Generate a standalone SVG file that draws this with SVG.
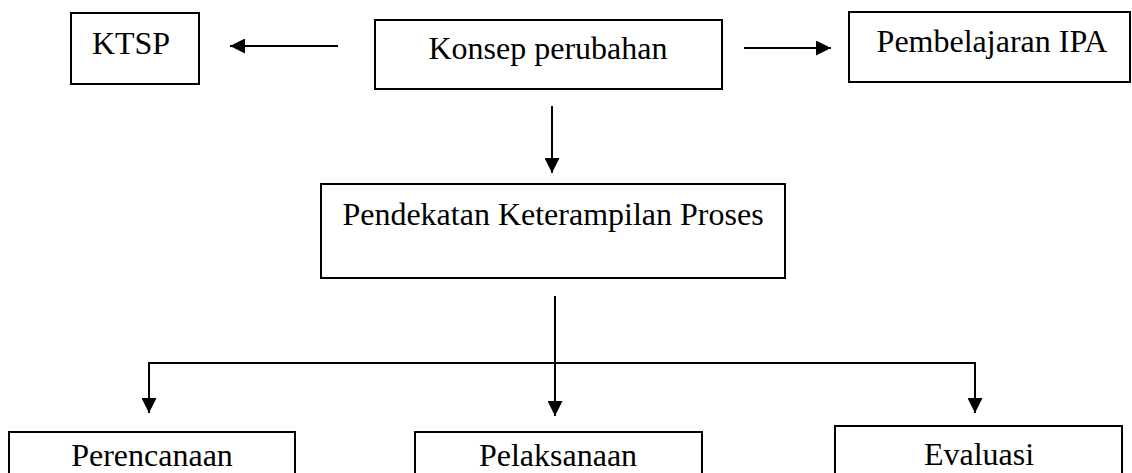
<svg xmlns="http://www.w3.org/2000/svg" width="1132" height="473" viewBox="0 0 1132 473">
<style>
.box{fill:#fff;stroke:#000;stroke-width:2}
.t{font-family:"Liberation Serif","Times New Roman",serif;font-size:32px;fill:#000;text-anchor:middle}
.c{stroke:#000;stroke-width:2;fill:none}
</style>
<defs>
<marker id="ah" viewBox="0 0 10 10" refX="10" refY="5" markerWidth="15" markerHeight="15" markerUnits="userSpaceOnUse" orient="auto">
<path d="M0,0 L10,5 L0,10 Z" fill="#000"/>
</marker>
</defs>
<rect width="1132" height="473" fill="#fff"/>
<g id="connectors">
<line class="c" x1="338" y1="46" x2="230" y2="46" marker-end="url(#ah)"/>
<line class="c" x1="744" y1="48" x2="831" y2="48" marker-end="url(#ah)"/>
<line class="c" x1="552" y1="106" x2="552" y2="173" marker-end="url(#ah)"/>
<line class="c" x1="555" y1="296" x2="555" y2="416" marker-end="url(#ah)"/>
<line class="c" x1="148" y1="363" x2="976" y2="363"/>
<line class="c" x1="149" y1="362" x2="149" y2="413" marker-end="url(#ah)"/>
<line class="c" x1="975" y1="362" x2="975" y2="413" marker-end="url(#ah)"/>
</g>
<g id="ktsp"><rect class="box" x="71" y="13" width="128" height="71"/><text class="t" x="131" y="54">KTSP</text></g>
<g id="konsep"><rect class="box" x="375" y="20" width="347" height="69"/><text class="t" x="548" y="59">Konsep perubahan</text></g>
<g id="pembelajaran"><rect class="box" x="849" y="12" width="281" height="70"/><text class="t" x="992" y="52">Pembelajaran IPA</text></g>
<g id="pendekatan"><rect class="box" x="321" y="184" width="464" height="94"/><text class="t" x="553" y="225">Pendekatan Keterampilan Proses</text></g>
<g id="perencanaan"><rect class="box" x="9" y="432" width="286" height="60"/><text class="t" x="152" y="466">Perencanaan</text></g>
<g id="pelaksanaan"><rect class="box" x="415" y="432" width="287" height="60"/><text class="t" x="558" y="466">Pelaksanaan</text></g>
<g id="evaluasi"><rect class="box" x="835" y="426" width="287" height="60"/><text class="t" x="979" y="465">Evaluasi</text></g>
</svg>
